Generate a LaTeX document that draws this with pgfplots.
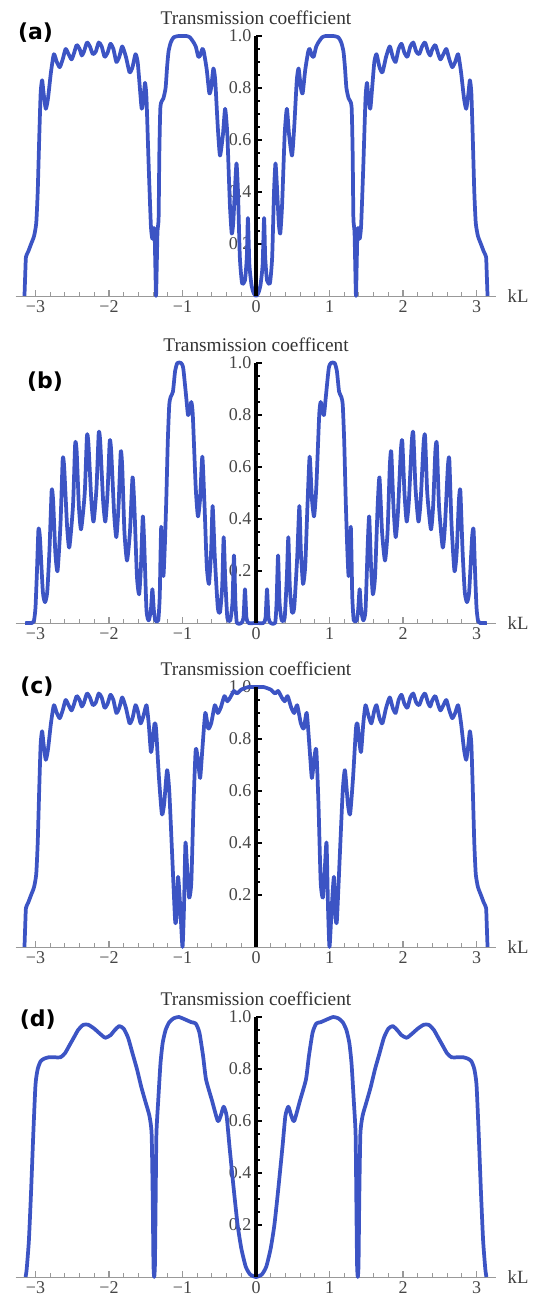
\documentclass[border=0pt]{standalone}
\usepackage{fontspec}
\setmainfont{Liberation Serif}
\newfontfamily\lblfont{DejaVu Sans}
\usepackage{pgfplots}
\usepackage{pgfplotstable}
\pgfplotsset{compat=1.18}

\definecolor{curve}{RGB}{60,84,196}
\definecolor{ticktext}{RGB}{70,70,70}

\pgfplotsset{
  tpanel/.style={
    anchor=origin,
    x=55.125pt, y=195pt,
    xmin=-3.27, xmax=3.27, ymin=0, ymax=1,
    axis lines=middle,
    separate axis lines,
    every inner x axis line/.append style={-, gray!80, line width=0.7pt},
    every inner y axis line/.append style={-, black, line width=2.6pt},
    clip=false,
    hide obscured x ticks=false,
    hide obscured y ticks=false,
    xtick={-3,-2,-1,0,1,2,3},
    xticklabels={−3,−2,−1,0,1,2,3},
    ytick={0.2,0.4,0.6,0.8,1.0},
    yticklabels={0.2,0.4,0.6,0.8,1.0},
    minor x tick num=4,
    minor y tick num=3,
    tick align=inside,
    major tick length=4.5pt,
    minor tick length=3pt,
    x tick style={gray!80, line width=0.8pt},
    y tick style={black, line width=1.6pt},
    tick label style={font=\fontsize{13.5}{14}\selectfont, text=ticktext},
  },
  tcurve/.style={curve, line width=2.8pt, smooth, tension=0.35, line join=round},
}

\newcommand{\paneltitle}[1]{%
  \draw[black, line width=2.6pt] (axis cs:0,0) -- (axis cs:0,1);
  \node[font=\fontsize{14.5}{16}\selectfont, text=black!80] at (axis cs:0,1.07) {#1};
  \node[anchor=west, font=\fontsize{14}{16}\selectfont, text=black!75] at (axis cs:3.36,0) {kL};
}
\newcommand{\panellabel}[3]{%
  \node[font=\lblfont\bfseries\fontsize{16.5}{18}\selectfont] at (axis cs:#1,#2) {#3};
}

% panel (a)
\pgfplotstableread{
x y
-3.15 0.00
-3.14 0.08
-3.13 0.15
-3.10 0.17
-3.06 0.20
-3.02 0.23
-2.99 0.28
-2.97 0.40
-2.95 0.60
-2.93 0.78
-2.91 0.83
-2.89 0.78
-2.86 0.72
-2.83 0.76
-2.79 0.86
-2.75 0.93
-2.71 0.90
-2.67 0.88
-2.63 0.91
-2.59 0.95
-2.55 0.93
-2.51 0.91
-2.48 0.93
-2.44 0.965
-2.40 0.95
-2.37 0.925
-2.34 0.94
-2.30 0.975
-2.26 0.96
-2.22 0.93
-2.18 0.94
-2.14 0.975
-2.10 0.96
-2.06 0.92
-2.02 0.935
-1.98 0.97
-1.94 0.95
-1.90 0.90
-1.86 0.92
-1.82 0.96
-1.77 0.92
-1.72 0.86
-1.68 0.88
-1.64 0.93
-1.61 0.90
-1.58 0.80
-1.555 0.72
-1.53 0.76
-1.51 0.82
-1.49 0.76
-1.46 0.50
-1.43 0.27
-1.41 0.22
-1.395 0.26
-1.38 0.25
-1.37 0.12
-1.36 0.00
-1.35 0.12
-1.34 0.25
-1.325 0.30
-1.315 0.55
-1.30 0.73
-1.26 0.76
-1.23 0.80
-1.21 0.88
-1.19 0.94
-1.16 0.975
-1.12 0.995
-1.05 1.00
-0.95 1.00
-0.90 0.995
-0.86 0.98
-0.82 0.96
-0.785 0.92
-0.76 0.925
-0.73 0.95
-0.71 0.94
-0.67 0.87
-0.635 0.78
-0.61 0.80
-0.58 0.875
-0.555 0.83
-0.52 0.65
-0.49 0.54
-0.45 0.62
-0.42 0.72
-0.39 0.62
-0.355 0.35
-0.33 0.24
-0.31 0.28
-0.285 0.42
-0.265 0.51
-0.245 0.40
-0.22 0.15
-0.19 0.05
-0.15 0.06
-0.125 0.15
-0.11 0.30
-0.09 0.12
-0.06 0.04
-0.03 0.01
0.00 0.00
0.03 0.01
0.06 0.04
0.09 0.12
0.11 0.30
0.125 0.15
0.15 0.06
0.19 0.05
0.22 0.15
0.245 0.40
0.265 0.51
0.285 0.42
0.31 0.28
0.33 0.24
0.355 0.35
0.39 0.62
0.42 0.72
0.45 0.62
0.49 0.54
0.52 0.65
0.555 0.83
0.58 0.875
0.61 0.80
0.635 0.78
0.67 0.87
0.71 0.94
0.73 0.95
0.76 0.925
0.785 0.92
0.82 0.96
0.86 0.98
0.90 0.995
0.95 1.00
1.05 1.00
1.12 0.995
1.16 0.975
1.19 0.94
1.21 0.88
1.23 0.80
1.26 0.76
1.30 0.73
1.315 0.55
1.325 0.30
1.34 0.25
1.35 0.12
1.36 0.00
1.37 0.12
1.38 0.25
1.395 0.26
1.41 0.22
1.43 0.27
1.46 0.50
1.49 0.76
1.51 0.82
1.53 0.76
1.555 0.72
1.58 0.80
1.61 0.90
1.64 0.93
1.68 0.88
1.72 0.86
1.77 0.92
1.82 0.96
1.86 0.92
1.90 0.90
1.94 0.95
1.98 0.97
2.02 0.935
2.06 0.92
2.10 0.96
2.14 0.975
2.18 0.94
2.22 0.93
2.26 0.96
2.30 0.975
2.34 0.94
2.37 0.925
2.40 0.95
2.44 0.965
2.48 0.93
2.51 0.91
2.55 0.93
2.59 0.95
2.63 0.91
2.67 0.88
2.71 0.90
2.75 0.93
2.79 0.86
2.83 0.76
2.86 0.72
2.89 0.78
2.91 0.83
2.93 0.78
2.95 0.60
2.97 0.40
2.99 0.28
3.02 0.23
3.06 0.20
3.10 0.17
3.13 0.15
3.14 0.08
3.15 0.00
}\dataA

% panel (b)
\pgfplotstableread{
x y
-3.14 0.00
-3.05 0.00
-3.02 0.01
-3.00 0.06
-2.98 0.20
-2.96 0.36
-2.94 0.33
-2.90 0.12
-2.87 0.08
-2.84 0.12
-2.81 0.28
-2.78 0.51
-2.76 0.47
-2.73 0.27
-2.70 0.20
-2.66 0.38
-2.63 0.63
-2.61 0.60
-2.57 0.37
-2.54 0.29
-2.49 0.45
-2.46 0.69
-2.44 0.66
-2.41 0.45
-2.38 0.36
-2.33 0.50
-2.30 0.72
-2.28 0.69
-2.24 0.47
-2.21 0.39
-2.17 0.52
-2.14 0.73
-2.12 0.70
-2.08 0.47
-2.05 0.39
-2.02 0.50
-1.99 0.70
-1.97 0.66
-1.93 0.42
-1.90 0.33
-1.87 0.45
-1.84 0.66
-1.82 0.60
-1.79 0.35
-1.755 0.24
-1.715 0.35
-1.68 0.56
-1.655 0.45
-1.62 0.18
-1.59 0.11
-1.565 0.22
-1.54 0.41
-1.52 0.30
-1.49 0.05
-1.46 0.01
-1.43 0.05
-1.41 0.13
-1.39 0.05
-1.37 0.01
-1.33 0.01
-1.31 0.10
-1.30 0.25
-1.29 0.37
-1.28 0.30
-1.26 0.18
-1.24 0.30
-1.22 0.48
-1.20 0.70
-1.18 0.84
-1.16 0.87
-1.13 0.89
-1.10 0.97
-1.07 1.00
-1.02 1.00
-0.99 0.98
-0.95 0.87
-0.925 0.80
-0.90 0.82
-0.88 0.85
-0.86 0.80
-0.82 0.52
-0.79 0.41
-0.76 0.48
-0.73 0.64
-0.70 0.45
-0.67 0.22
-0.64 0.15
-0.61 0.28
-0.59 0.45
-0.56 0.25
-0.52 0.06
-0.49 0.04
-0.46 0.14
-0.44 0.33
-0.42 0.18
-0.39 0.02
-0.35 0.01
-0.32 0.08
-0.30 0.26
-0.28 0.08
-0.26 0.00
-0.20 0.00
-0.17 0.02
-0.15 0.13
-0.13 0.02
-0.10 0.00
0.00 0.00
0.10 0.00
0.13 0.02
0.15 0.13
0.17 0.02
0.20 0.00
0.26 0.00
0.28 0.08
0.30 0.26
0.32 0.08
0.35 0.01
0.39 0.02
0.42 0.18
0.44 0.33
0.46 0.14
0.49 0.04
0.52 0.06
0.56 0.25
0.59 0.45
0.61 0.28
0.64 0.15
0.67 0.22
0.70 0.45
0.73 0.64
0.76 0.48
0.79 0.41
0.82 0.52
0.86 0.80
0.88 0.85
0.90 0.82
0.925 0.80
0.95 0.87
0.99 0.98
1.02 1.00
1.07 1.00
1.10 0.97
1.13 0.89
1.16 0.87
1.18 0.84
1.20 0.70
1.22 0.48
1.24 0.30
1.26 0.18
1.28 0.30
1.29 0.37
1.30 0.25
1.31 0.10
1.33 0.01
1.37 0.01
1.39 0.05
1.41 0.13
1.43 0.05
1.46 0.01
1.49 0.05
1.52 0.30
1.54 0.41
1.565 0.22
1.59 0.11
1.62 0.18
1.655 0.45
1.68 0.56
1.715 0.35
1.755 0.24
1.79 0.35
1.82 0.60
1.84 0.66
1.87 0.45
1.90 0.33
1.93 0.42
1.97 0.66
1.99 0.70
2.02 0.50
2.05 0.39
2.08 0.47
2.12 0.70
2.14 0.73
2.17 0.52
2.21 0.39
2.24 0.47
2.28 0.69
2.30 0.72
2.33 0.50
2.38 0.36
2.41 0.45
2.44 0.66
2.46 0.69
2.49 0.45
2.54 0.29
2.57 0.37
2.61 0.60
2.63 0.63
2.66 0.38
2.70 0.20
2.73 0.27
2.76 0.47
2.78 0.51
2.81 0.28
2.84 0.12
2.87 0.08
2.90 0.12
2.94 0.33
2.96 0.36
2.98 0.20
3.00 0.06
3.02 0.01
3.05 0.00
3.14 0.00
}\dataB

% panel (c)
\pgfplotstableread{
x y
-3.15 0.00
-3.14 0.08
-3.13 0.15
-3.10 0.17
-3.06 0.20
-3.02 0.23
-2.99 0.28
-2.97 0.40
-2.95 0.60
-2.93 0.78
-2.91 0.83
-2.89 0.78
-2.86 0.72
-2.83 0.76
-2.79 0.86
-2.75 0.93
-2.71 0.90
-2.67 0.88
-2.63 0.91
-2.59 0.95
-2.55 0.93
-2.51 0.91
-2.48 0.93
-2.44 0.965
-2.40 0.95
-2.37 0.925
-2.34 0.94
-2.30 0.975
-2.26 0.96
-2.22 0.93
-2.18 0.94
-2.14 0.975
-2.10 0.96
-2.06 0.92
-2.02 0.935
-1.98 0.97
-1.94 0.95
-1.90 0.90
-1.86 0.92
-1.82 0.96
-1.77 0.92
-1.72 0.86
-1.68 0.88
-1.64 0.93
-1.61 0.91
-1.57 0.86
-1.53 0.89
-1.49 0.93
-1.46 0.86
-1.43 0.75
-1.41 0.78
-1.38 0.86
-1.36 0.84
-1.32 0.65
-1.28 0.51
-1.25 0.55
-1.21 0.68
-1.18 0.60
-1.14 0.35
-1.10 0.10
-1.08 0.12
-1.06 0.27
-1.03 0.15
-1.00 0.00
-0.98 0.15
-0.96 0.40
-0.94 0.32
-0.91 0.19
-0.88 0.25
-0.85 0.55
-0.82 0.76
-0.79 0.72
-0.76 0.65
-0.73 0.76
-0.69 0.90
-0.65 0.84
-0.61 0.86
-0.56 0.93
-0.52 0.90
-0.48 0.92
-0.43 0.965
-0.39 0.945
-0.35 0.96
-0.30 0.985
-0.26 0.975
-0.20 0.99
-0.10 1.00
0.00 1.00
0.10 1.00
0.20 0.99
0.26 0.975
0.30 0.985
0.35 0.96
0.39 0.945
0.43 0.965
0.48 0.92
0.52 0.90
0.56 0.93
0.61 0.86
0.65 0.84
0.69 0.90
0.73 0.76
0.76 0.65
0.79 0.72
0.82 0.76
0.85 0.55
0.88 0.25
0.91 0.19
0.94 0.32
0.96 0.40
0.98 0.15
1.00 0.00
1.03 0.15
1.06 0.27
1.08 0.12
1.10 0.10
1.14 0.35
1.18 0.60
1.21 0.68
1.25 0.55
1.28 0.51
1.32 0.65
1.36 0.84
1.38 0.86
1.41 0.78
1.43 0.75
1.46 0.86
1.49 0.93
1.53 0.89
1.57 0.86
1.61 0.91
1.64 0.93
1.68 0.88
1.72 0.86
1.77 0.92
1.82 0.96
1.86 0.92
1.90 0.90
1.94 0.95
1.98 0.97
2.02 0.935
2.06 0.92
2.10 0.96
2.14 0.975
2.18 0.94
2.22 0.93
2.26 0.96
2.30 0.975
2.34 0.94
2.37 0.925
2.40 0.95
2.44 0.965
2.48 0.93
2.51 0.91
2.55 0.93
2.59 0.95
2.63 0.91
2.67 0.88
2.71 0.90
2.75 0.93
2.79 0.86
2.83 0.76
2.86 0.72
2.89 0.78
2.91 0.83
2.93 0.78
2.95 0.60
2.97 0.40
2.99 0.28
3.02 0.23
3.06 0.20
3.10 0.17
3.13 0.15
3.14 0.08
3.15 0.00
}\dataC

% panel (d)
\pgfplotstableread{
x y
-3.135 0.00
-3.12 0.03
-3.09 0.14
-3.06 0.33
-3.03 0.55
-3.00 0.74
-2.97 0.80
-2.93 0.83
-2.88 0.84
-2.82 0.845
-2.74 0.845
-2.66 0.845
-2.60 0.86
-2.54 0.89
-2.48 0.92
-2.42 0.95
-2.35 0.97
-2.28 0.97
-2.20 0.955
-2.12 0.935
-2.05 0.92
-1.98 0.93
-1.92 0.95
-1.86 0.965
-1.80 0.955
-1.74 0.92
-1.68 0.86
-1.62 0.80
-1.56 0.73
-1.50 0.67
-1.45 0.62
-1.42 0.55
-1.405 0.30
-1.395 0.05
-1.385 0.00
-1.375 0.05
-1.365 0.30
-1.355 0.55
-1.33 0.68
-1.30 0.82
-1.27 0.90
-1.23 0.95
-1.18 0.98
-1.12 0.995
-1.05 1.00
-0.96 0.99
-0.88 0.98
-0.82 0.975
-0.77 0.94
-0.72 0.85
-0.68 0.76
-0.60 0.68
-0.52 0.60
-0.48 0.62
-0.44 0.655
-0.40 0.62
-0.36 0.50
-0.30 0.33
-0.25 0.20
-0.20 0.11
-0.14 0.04
-0.08 0.01
0.00 0.00
0.08 0.01
0.14 0.04
0.20 0.11
0.25 0.20
0.30 0.33
0.36 0.50
0.40 0.62
0.44 0.655
0.48 0.62
0.52 0.60
0.60 0.68
0.68 0.76
0.72 0.85
0.77 0.94
0.82 0.975
0.88 0.98
0.96 0.99
1.05 1.00
1.12 0.995
1.18 0.98
1.23 0.95
1.27 0.90
1.30 0.82
1.33 0.68
1.355 0.55
1.365 0.30
1.375 0.05
1.385 0.00
1.395 0.05
1.405 0.30
1.42 0.55
1.45 0.62
1.50 0.67
1.56 0.73
1.62 0.80
1.68 0.86
1.74 0.92
1.80 0.955
1.86 0.965
1.92 0.95
1.98 0.93
2.05 0.92
2.12 0.935
2.20 0.955
2.28 0.97
2.35 0.97
2.42 0.95
2.48 0.92
2.54 0.89
2.60 0.86
2.66 0.845
2.74 0.845
2.82 0.845
2.88 0.84
2.93 0.83
2.97 0.80
3.00 0.74
3.03 0.55
3.06 0.33
3.09 0.14
3.12 0.03
3.135 0.00
}\dataD

\begin{document}
\begin{tikzpicture}
\path[use as bounding box] (0pt,0pt) rectangle (399.75pt,971.25pt);

\begin{axis}[tpanel, at={(192pt,749.25pt)}]
  \addplot[tcurve] table {\dataA};
  \paneltitle{Transmission coefficient}
  \panellabel{-3.0}{1.013}{(a)}
\end{axis}

\begin{axis}[tpanel, at={(192pt,504pt)}]
  \addplot[tcurve] table {\dataB};
  \paneltitle{Transmission coefficent}
  \panellabel{-2.87}{0.93}{(b)}
\end{axis}

\begin{axis}[tpanel, at={(192pt,261pt)}]
  \addplot[tcurve] table {\dataC};
  \paneltitle{Transmission coefficient}
  \panellabel{-2.98}{1.0}{(c)}
\end{axis}

\begin{axis}[tpanel, at={(192pt,13.5pt)}]
  \addplot[tcurve] table {\dataD};
  \paneltitle{Transmission coefficient}
  \panellabel{-2.97}{0.99}{(d)}
\end{axis}
\end{tikzpicture}
\end{document}
